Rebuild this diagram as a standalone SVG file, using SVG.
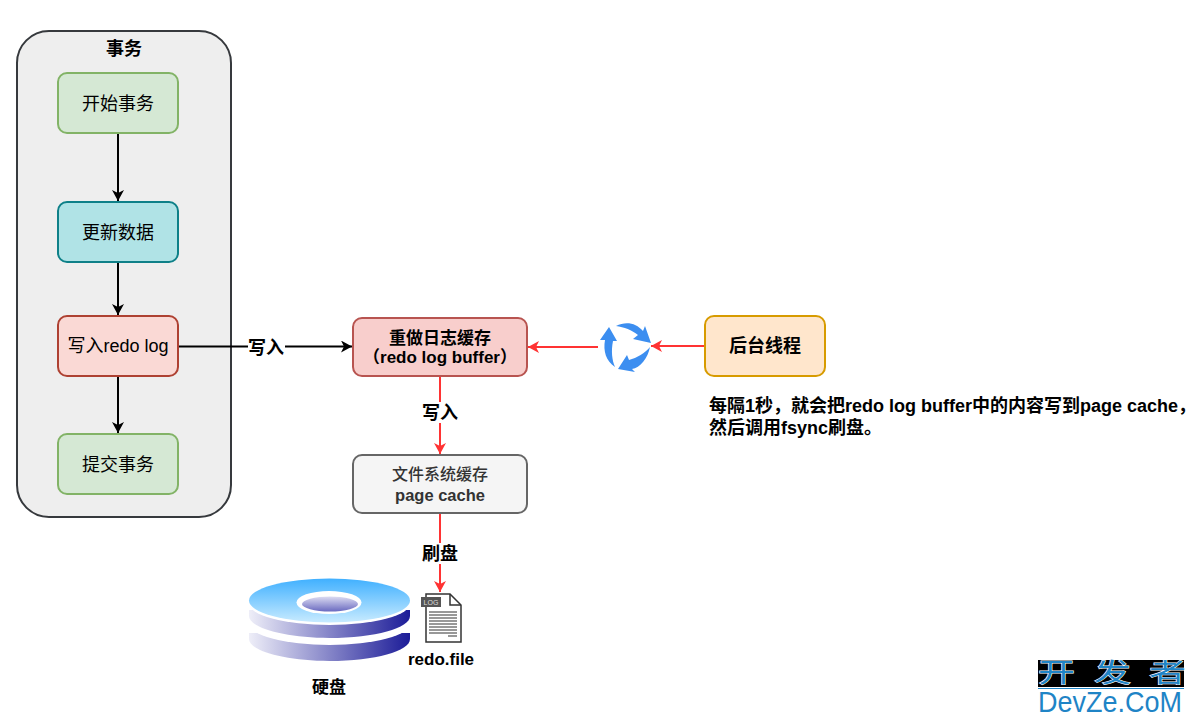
<svg xmlns="http://www.w3.org/2000/svg" width="1194" height="723" viewBox="0 0 1194 723">
<style>
text{font-family:"Liberation Sans","Noto Sans CJK SC",sans-serif;text-anchor:middle;fill:#000}
.n{font-size:18px}.b{font-weight:700;font-size:18px}.s{font-weight:700;font-size:17px}
.c{fill:none;stroke-width:2}
.k{stroke:#000}.r{stroke:#ff3333}
.wm{font-size:37px;fill:#1f84c6;stroke:#fff;stroke-width:1.4;paint-order:stroke}
</style>
<defs>
<marker id="ak" markerUnits="userSpaceOnUse" markerWidth="12" markerHeight="12" refX="11" refY="6" orient="auto"><path d="M0 0L11 6L0 12L3 6Z" fill="#000"/></marker>
<marker id="ar" markerUnits="userSpaceOnUse" markerWidth="12" markerHeight="12" refX="11" refY="6" orient="auto"><path d="M0 0L11 6L0 12L3 6Z" fill="#ff3333"/></marker>
<linearGradient id="top" x1="0" y1="0" x2="0" y2="1"><stop offset="0" stop-color="#40b0ff"/><stop offset="1" stop-color="#c8ebff"/></linearGradient>
<linearGradient id="side" x1="0" y1="0" x2="1" y2="0"><stop offset="0" stop-color="#eeeef8"/><stop offset="1" stop-color="#1c1c98"/></linearGradient>
<linearGradient id="hole" x1="0" y1="0" x2="0" y2="1"><stop offset="0" stop-color="#dcdcf2"/><stop offset="1" stop-color="#6a6ac0"/></linearGradient>
</defs>
<g id="tx"><rect x="17" y="31" width="214" height="486" rx="32" fill="#eeeeee" stroke="#36393d" stroke-width="2"/><text class="b" x="124" y="55">事务</text></g>
<g id="connectors">
<path class="c k" d="M118 133V201" marker-end="url(#ak)"/>
<path class="c k" d="M118 262V315" marker-end="url(#ak)"/>
<path class="c k" d="M118 376V433" marker-end="url(#ak)"/>
<path class="c k" d="M178 346.500H352" marker-end="url(#ak)"/>
<path class="c r" d="M598 347H528" marker-end="url(#ar)"/>
<path class="c r" d="M704 346H651" marker-end="url(#ar)"/>
<path class="c r" d="M440 377V454" marker-end="url(#ar)"/>
<path class="c r" d="M440 514V592" marker-end="url(#ar)"/>
<rect x="248" y="337" width="37" height="20" fill="#fff"/><text class="b" x="266" y="354">写入</text>
<rect x="421" y="402" width="38" height="21" fill="#fff"/><text class="b" x="440" y="419">写入</text>
<rect x="421" y="543" width="38" height="21" fill="#fff"/><text class="b" x="440" y="560">刷盘</text>
</g>
<g id="start"><rect x="58" y="73" width="120" height="60" rx="9" fill="#d5e8d4" stroke="#82b366" stroke-width="2"/><text class="n" x="118" y="110">开始事务</text></g>
<g id="update"><rect x="58" y="202" width="120" height="60" rx="9" fill="#b0e3e6" stroke="#0e8088" stroke-width="2"/><text class="n" x="118" y="239">更新数据</text></g>
<g id="write"><rect x="58" y="316" width="120" height="60" rx="9" fill="#fad9d5" stroke="#ae4132" stroke-width="2"/><text class="n" x="118" y="352">写入redo log</text></g>
<g id="commit"><rect x="58" y="434" width="120" height="60" rx="9" fill="#d5e8d4" stroke="#82b366" stroke-width="2"/><text class="n" x="118" y="471">提交事务</text></g>
<g id="buffer"><rect x="353" y="318" width="174" height="58" rx="9" fill="#f8cecc" stroke="#b85450" stroke-width="2"/><text class="s" x="440" y="344">重做日志缓存</text><text class="s" x="440" y="363">（redo log buffer）</text></g>
<g id="pagecache"><rect x="353" y="455" width="174" height="58" rx="9" fill="#f5f5f5" stroke="#666666" stroke-width="2"/><text x="440" y="480" style="fill:#333;font-size:16px;font-weight:500">文件系统缓存</text><text class="s" x="440" y="501" style="fill:#333;font-size:16.5px">page cache</text></g>
<g id="thread"><rect x="705" y="316" width="120" height="60" rx="9" fill="#ffe6cc" stroke="#d79b00" stroke-width="2"/><text class="b" x="765" y="352">后台线程</text></g>
<g id="cycle" fill="#3c8ef0">
<path d="M616 326C626 321 636 323 643 331L645 326L651 343L633 339L638 335C632 330 624 327 616 326Z"/>
<path d="M609 327L617 341L613 341C611 351 612 360 615 367C606 361 603 351 605 340L600 340Z"/>
<path d="M650 347C648 358 640 368 632 369L635 372L618 369L627 355L629 360C637 358 645 353 650 347Z"/>
</g>
<g id="note"><text x="709" y="412" style="text-anchor:start" class="b">每隔1秒，就会把redo log buffer中的内容写到page cache，</text><text x="709" y="434" style="text-anchor:start" class="b">然后调用fsync刷盘。</text></g>
<g id="disk">
<path d="M249 633V639C249 651 285 661 329.500 661C375 661 410 651 410 639V633Z" fill="url(#side)"/>
<ellipse cx="329.500" cy="623" rx="81" ry="22" fill="#fff"/>
<path d="M249 610H410V616C410 628 375 638 329.500 638C285 638 249 628 249 616Z" fill="url(#side)"/>
<ellipse cx="329.500" cy="603" rx="81" ry="22" fill="#fff"/>
<ellipse cx="329.500" cy="600.500" rx="80.500" ry="22" fill="url(#top)"/>
<ellipse cx="329" cy="602.500" rx="32.500" ry="11.500" fill="#fff"/>
<ellipse cx="330" cy="604" rx="28" ry="7.500" fill="url(#hole)"/>
<text x="329" y="693" class="s">硬盘</text>
</g>
<g id="file">
<path d="M426 594H450L461 605V642H426Z" fill="#fff" stroke="#333" stroke-width="1.500"/>
<path d="M450 594V605H461" fill="none" stroke="#333" stroke-width="1.500"/>
<rect x="421" y="597" width="20" height="10" fill="#555"/>
<text x="431" y="605" style="fill:#ddd;font-size:7px">LOG</text>
<path d="M429 612H457M429 615H457M429 618H457M429 621H457M429 624H457M429 627H457M429 630H457M429 633H457M448 636H457" stroke="#333" stroke-width="1.200"/>
<text x="441" y="665" class="s">redo.file</text>
</g>
<g id="watermark">
<rect x="1038" y="660" width="146" height="27" fill="#000"/>
<rect x="1038" y="688" width="146" height="1" fill="#1f84c6"/>
<text class="wm" transform="translate(1056.500 682) scale(1 .72)" x="0" y="0">开</text>
<text class="wm" transform="translate(1112.500 682) scale(1 .72)" x="0" y="0">发</text>
<text class="wm" transform="translate(1167.500 682) scale(1 .72)" x="0" y="0">者</text>
<text transform="translate(1038 712) scale(1 1.100)" x="0" y="0" style="fill:#1f84c6;font-size:27px;text-anchor:start">DevZe.CoM</text>
</g>
</svg>
